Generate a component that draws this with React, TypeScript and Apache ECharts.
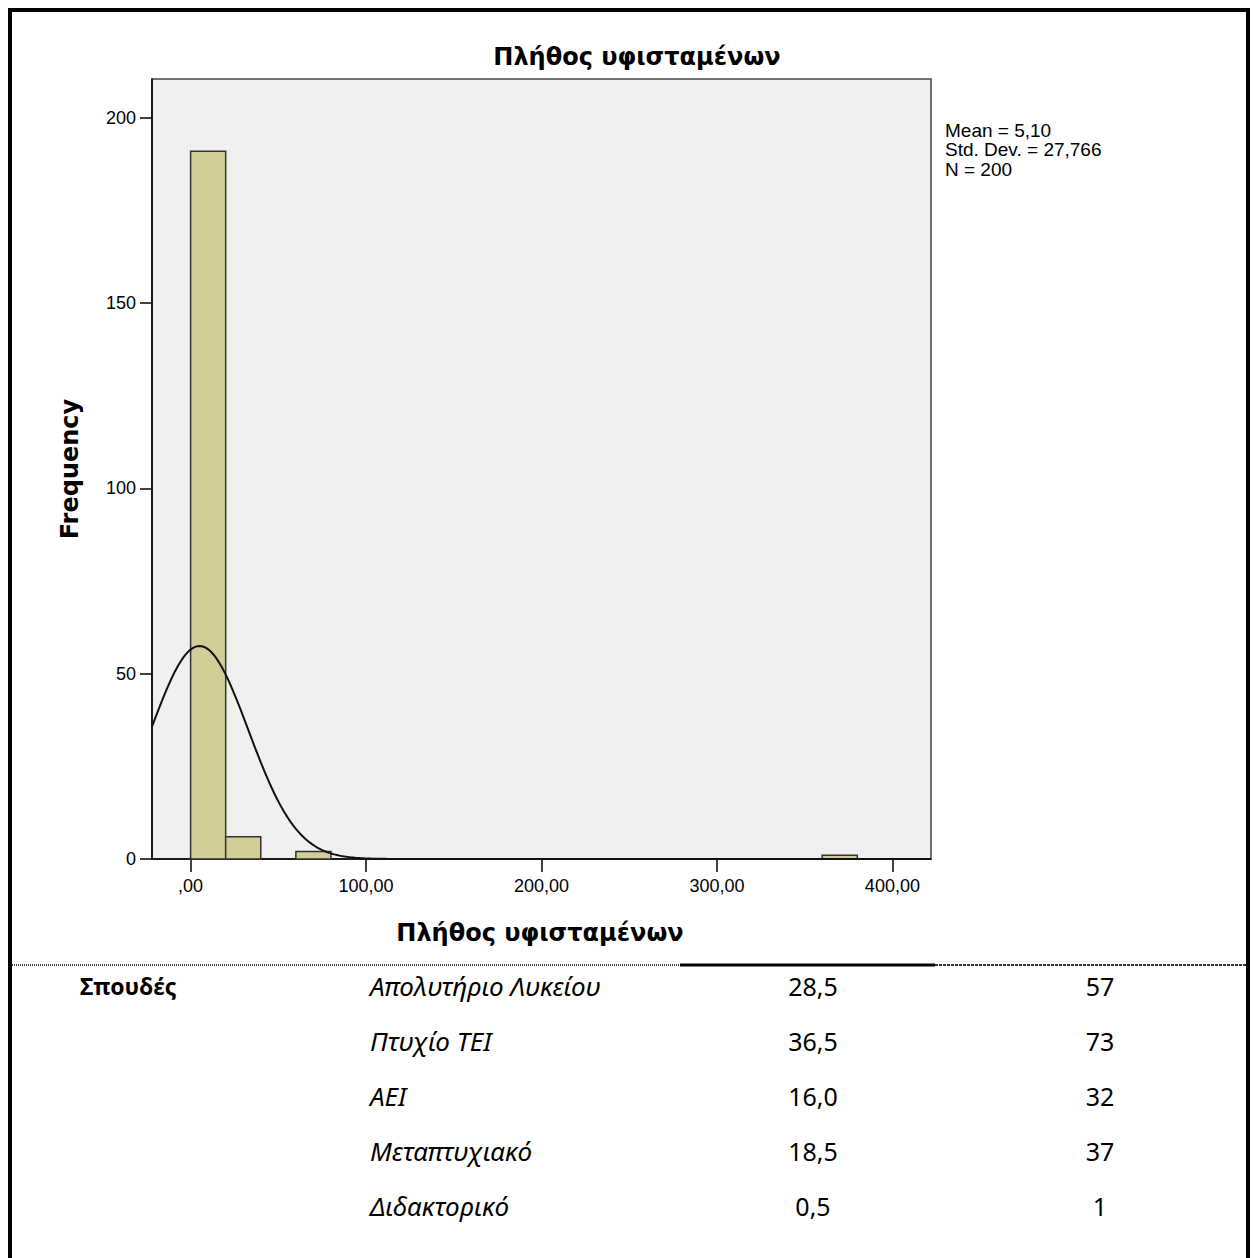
import React, { useEffect, useRef } from "react";
import * as echarts from "echarts";

// Histogram bins (lower edge, upper edge) and frequencies
const binLows = [0, 20, 60, 360];
const binHighs = [20, 40, 80, 380];
const binCounts = [191, 6, 2, 1];

// Summary statistics
const meanValue = 5.1;
const sdValue = 27.766;
const nValue = 200;
const binWidth = 20;
const statLines = ["Mean = 5,10", "Std. Dev. = 27,766", "N = 200"];

// Axis ticks
const xTicks = [0, 100, 200, 300, 400];
const yTicks = [0, 50, 100, 150, 200];
const xMin = -22;
const xMax = 422;
const yMax = 210.5;

const chartTitle = "Πλήθος υφισταμένων";
const xTitle = "Πλήθος υφισταμένων";
const yTitle = "Frequency";

// Table below the chart
const tableHeader = "Σπουδές";
const tableCategories = ["Απολυτήριο Λυκείου", "Πτυχίο ΤΕΙ", "ΑΕΙ", "Μεταπτυχιακό", "Διδακτορικό"];
const tablePercents = ["28,5", "36,5", "16,0", "18,5", "0,5"];
const tableCounts = ["57", "73", "32", "37", "1"];

export default function App() {
  const ref = useRef<HTMLDivElement>(null);
  useEffect(() => {
    if (!ref.current) return;
    const chart = echarts.init(ref.current, null, { renderer: "svg" });

    const histData = binLows.map((lo, i) => [lo, binHighs[i], binCounts[i]]);
    const curve: number[][] = [];
    for (let x = xMin; x <= xMax; x += 1) {
      const z = (x - meanValue) / sdValue;
      const y = (nValue * binWidth) / (sdValue * Math.sqrt(2 * Math.PI)) * Math.exp(-0.5 * z * z);
      curve.push([x, y]);
    }

    const fmt = (v: number) => (v === 0 ? ",00" : v.toFixed(2).replace(".", ","));

    const graphics: any[] = [
      // outer border (open at bottom)
      { type: "line", shape: { x1: 10, y1: 8, x2: 10, y2: 1258 }, style: { stroke: "#000", lineWidth: 4 } },
      { type: "line", shape: { x1: 8, y1: 10, x2: 1250, y2: 10 }, style: { stroke: "#000", lineWidth: 4 } },
      { type: "line", shape: { x1: 1248, y1: 8, x2: 1248, y2: 1258 }, style: { stroke: "#000", lineWidth: 4 } },
      // titles
      {
        type: "text", x: 637, y: 57,
        style: { text: chartTitle, fontFamily: "DejaVu Sans", fontWeight: "bold", fontSize: 24, fill: "#000", align: "center", verticalAlign: "middle" },
      },
      {
        type: "text", x: 540, y: 933,
        style: { text: xTitle, fontFamily: "DejaVu Sans", fontWeight: "bold", fontSize: 24, fill: "#000", align: "center", verticalAlign: "middle" },
      },
      {
        type: "text", x: 70, y: 469, rotation: Math.PI / 2,
        style: { text: yTitle, fontFamily: "DejaVu Sans", fontWeight: "bold", fontSize: 24, fill: "#000", align: "center", verticalAlign: "middle" },
      },
      // table separator
      { type: "line", shape: { x1: 12, y1: 965, x2: 680, y2: 965 }, style: { stroke: "#444", lineWidth: 2, lineDash: [1, 1] } },
      { type: "line", shape: { x1: 680, y1: 965, x2: 935, y2: 965 }, style: { stroke: "#000", lineWidth: 3 } },
      { type: "line", shape: { x1: 935, y1: 965, x2: 1246, y2: 965 }, style: { stroke: "#333", lineWidth: 2, lineDash: [3, 1] } },
      {
        type: "text", x: 80, y: 986,
        style: { text: tableHeader, fontFamily: "Noto Sans", fontWeight: "bold", fontSize: 23, fill: "#000", align: "left", verticalAlign: "middle" },
      },
    ];
    statLines.forEach((t, i) => {
      graphics.push({
        type: "text", x: 945, y: 130 + i * 19.5,
        style: { text: t, fontFamily: "Liberation Sans", fontSize: 19, fill: "#000", align: "left", verticalAlign: "middle" },
      });
    });
    tableCategories.forEach((c, i) => {
      const y = 986 + i * 55;
      graphics.push({
        type: "text", x: 370, y,
        style: { text: c, fontFamily: "Noto Sans", fontStyle: "italic", fontSize: 26, fill: "#000", align: "left", verticalAlign: "middle" },
      });
      graphics.push({
        type: "text", x: 813, y,
        style: { text: tablePercents[i], fontFamily: "Noto Sans", fontSize: 25, fill: "#000", align: "center", verticalAlign: "middle" },
      });
      graphics.push({
        type: "text", x: 1100, y,
        style: { text: tableCounts[i], fontFamily: "Noto Sans", fontSize: 25, fill: "#000", align: "center", verticalAlign: "middle" },
      });
    });

    chart.setOption({
      animation: false,
      backgroundColor: "#fff",
      grid: {
        left: 152, top: 79, width: 779, height: 780,
        show: true, backgroundColor: "#F0F0F0", borderColor: "#444", borderWidth: 1.5,
      },
      xAxis: {
        type: "value", min: xMin, max: xMax,
        axisLine: { show: true, onZero: false, lineStyle: { color: "#000", width: 1.5 } },
        axisTick: { show: true, length: 13, customValues: xTicks, lineStyle: { color: "#000", width: 1.5 } },
        axisLabel: { customValues: xTicks, formatter: fmt, margin: 18, color: "#000", fontFamily: "Liberation Sans", fontSize: 18 },
        splitLine: { show: false },
      },
      yAxis: {
        type: "value", min: 0, max: yMax,
        axisLine: { show: true, onZero: false, lineStyle: { color: "#000", width: 1.5 } },
        axisTick: { show: true, length: 12, customValues: yTicks, lineStyle: { color: "#000", width: 1.5 } },
        axisLabel: { customValues: yTicks, margin: 16, color: "#000", fontFamily: "Liberation Sans", fontSize: 18 },
        splitLine: { show: false },
      },
      series: [
        {
          type: "custom",
          data: histData,
          encode: { x: [0, 1], y: 2 },
          renderItem: (params: any, api: any) => {
            const p0 = api.coord([api.value(0), 0]);
            const p1 = api.coord([api.value(1), api.value(2)]);
            return {
              type: "rect",
              shape: { x: p0[0], y: p1[1], width: p1[0] - p0[0], height: p0[1] - p1[1] },
              style: { fill: "#D3CE98", stroke: "#333", lineWidth: 1.5 },
            };
          },
          z: 2,
        },
        {
          type: "line",
          data: curve,
          showSymbol: false,
          symbol: "none",
          smooth: false,
          lineStyle: { color: "#111", width: 2 },
          z: 3,
        },
      ],
      graphic: graphics,
    });
    return () => chart.dispose();
  }, []);
  return (
    <div
      ref={ref}
      style={{ position: "absolute", left: 0, top: 0, width: 1254, height: 1258 }}
    />
  );
}
